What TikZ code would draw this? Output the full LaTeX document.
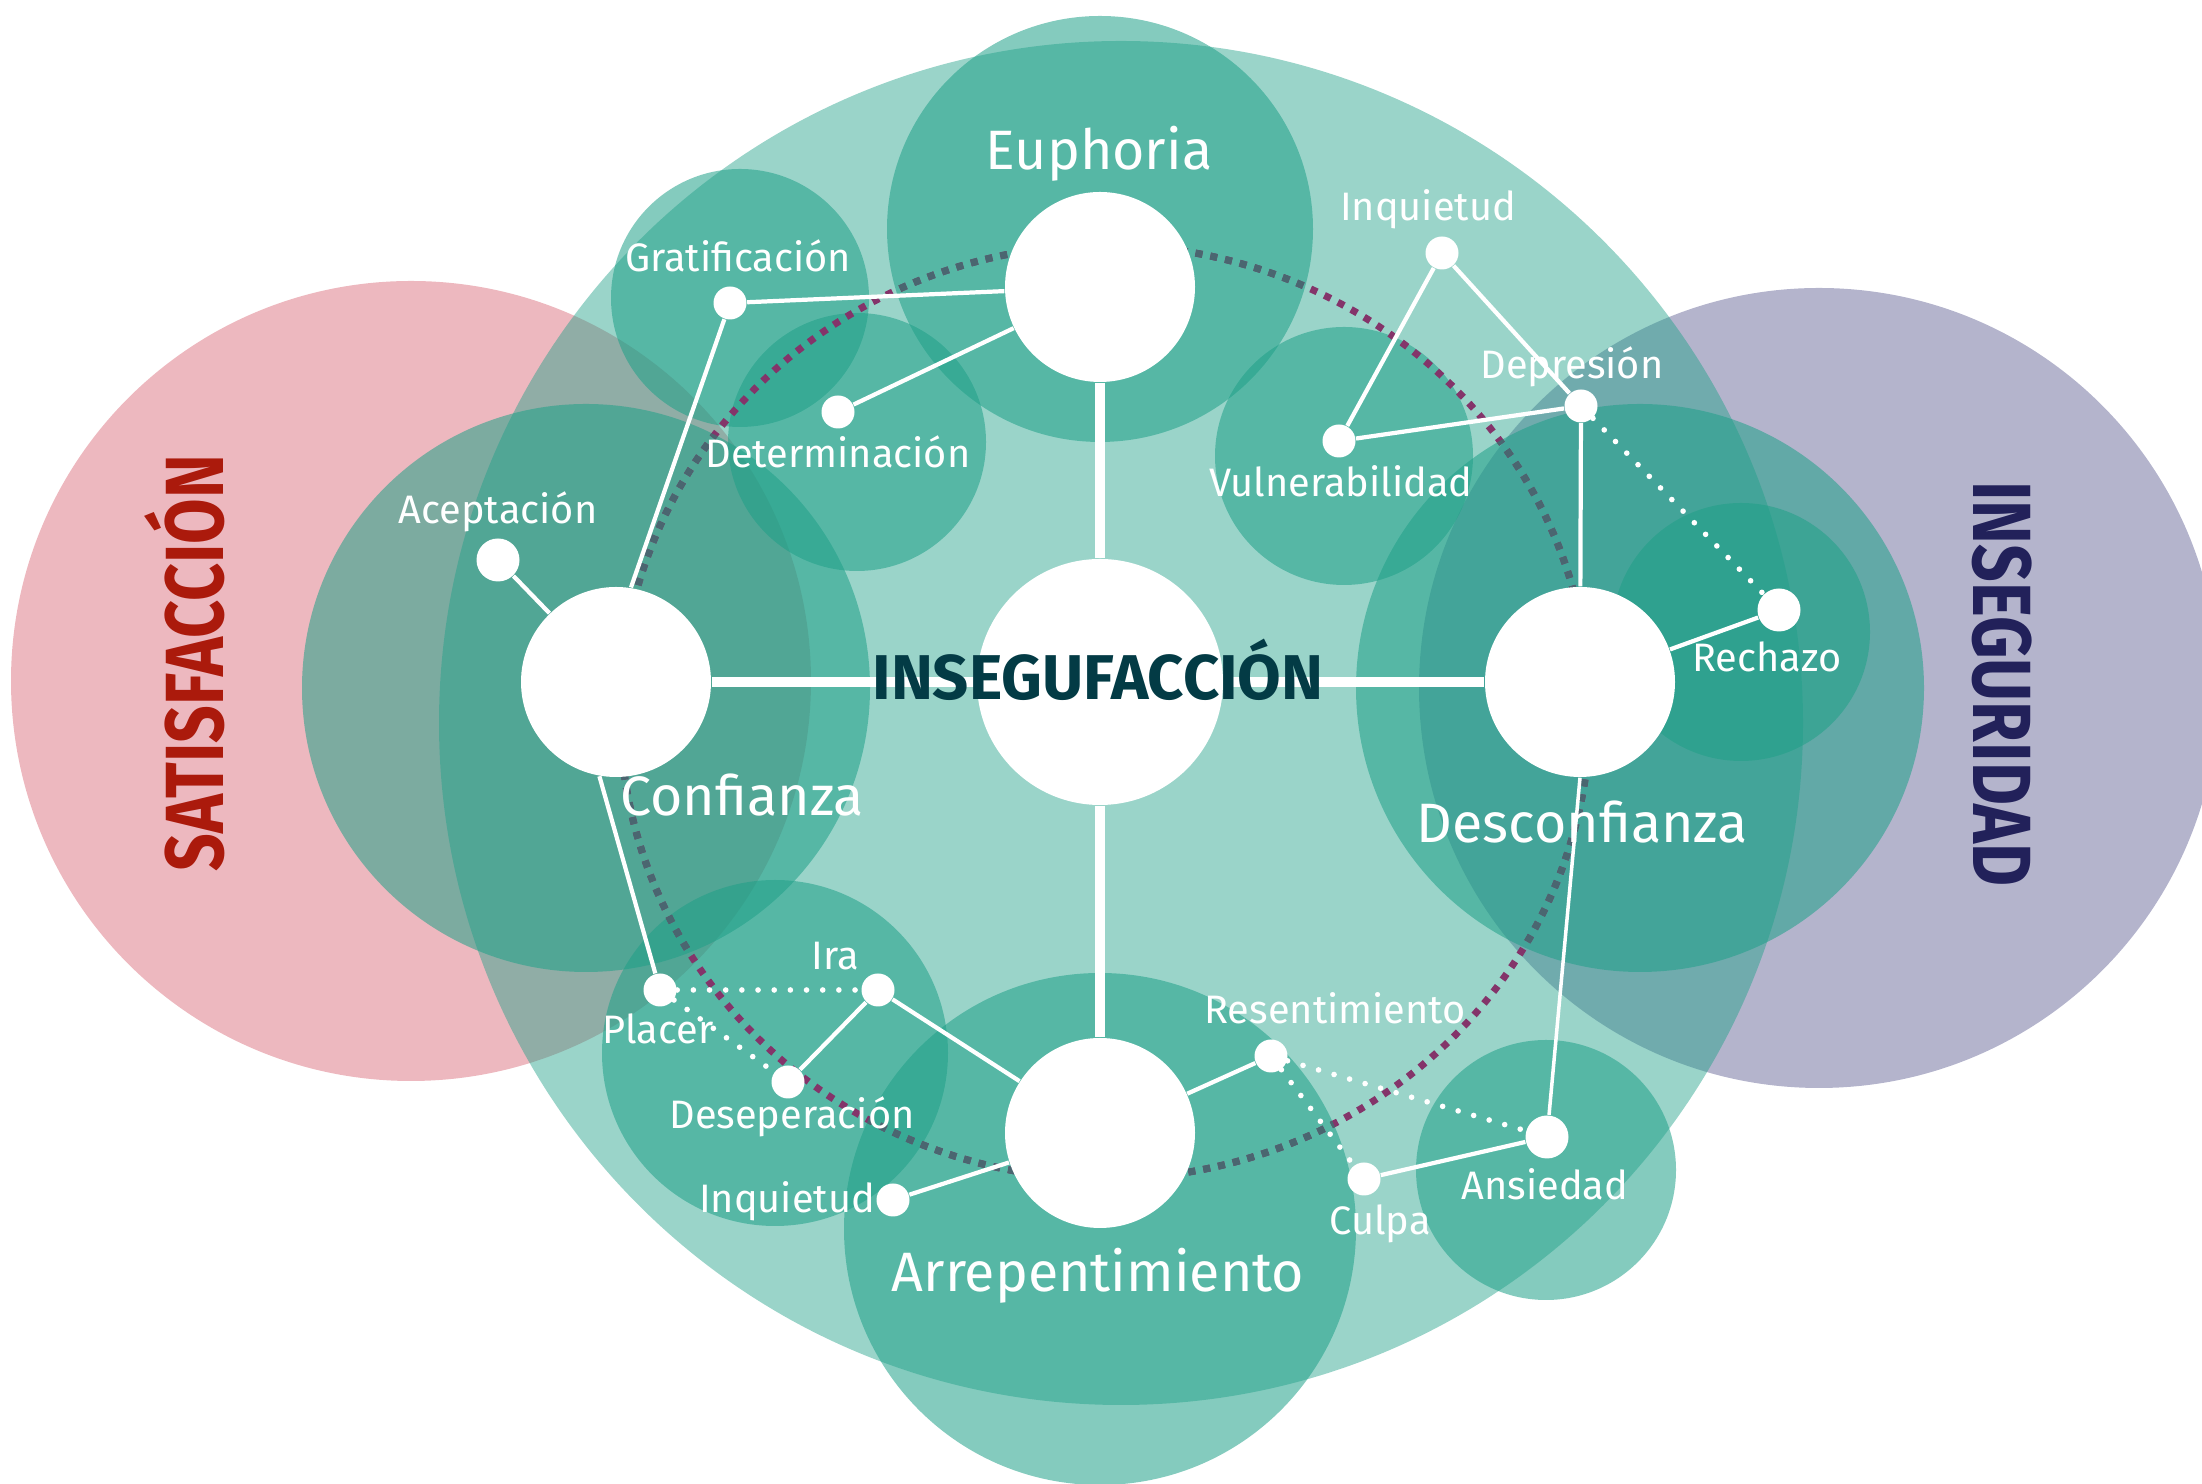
\documentclass[tikz,border=0pt]{standalone}
\usepackage{fontspec}
\setmainfont{Fira Sans}
\newfontfamily\sidefont[FakeStretch=0.8]{Fira Sans}

\definecolor{tealbase}{RGB}{31,160,136}
\definecolor{pinkbase}{RGB}{200,40,60}
\definecolor{violetbase}{RGB}{40,40,110}
\definecolor{ringslate}{HTML}{4A6670}
\definecolor{ringplum}{HTML}{84346A}
\definecolor{coretext}{HTML}{033B45}
\definecolor{satred}{HTML}{AB1A0C}
\definecolor{insnavy}{HTML}{22215A}

\begin{document}
\begin{tikzpicture}[
	hub/.style={circle,fill=white,inner sep=0pt,minimum size=1.9cm},
	leaf/.style={circle,fill=white,inner sep=0pt,minimum size=0.33cm},
	bigleaf/.style={leaf,minimum size=0.43cm},
	tag/.style={white,anchor=base,font=\fontsize{11.3}{13}\selectfont},
	bigtag/.style={white,anchor=base,font=\fontsize{15.8}{18}\selectfont},
	blob/.style={fill=tealbase,fill opacity=0.55},
	link/.style={white,line width=1.2pt},
	spoke/.style={white,line width=2.8pt},
	hint/.style={white,line width=1.6pt,line cap=round,dash pattern=on 0pt off 4.6pt},
	ring/.style={line width=2pt,dash pattern=on 2pt off 2.3pt}
]
	\useasboundingbox (0,0) rectangle (22.02,14.84);
	\fill[pinkbase,fill opacity=0.33] (4.11,8.03) circle (4.00);
	\fill[violetbase,fill opacity=0.35] (18.19,7.96) circle (4.00);
	\fill[tealbase,fill opacity=0.45] (11.21,7.61) circle (6.82);
	\fill[blob] (11.00,12.55) circle (2.13);
	\fill[blob] (5.86,7.96) circle (2.84);
	\fill[blob] (16.40,7.96) circle (2.84);
	\fill[blob] (11.00,2.55) circle (2.56);
	\fill[blob] (7.40,11.86) circle (1.29);
	\fill[blob] (8.57,10.42) circle (1.29);
	\fill[blob] (13.44,10.28) circle (1.29);
	\fill[blob] (17.41,8.52) circle (1.29);
	\fill[blob] (7.75,4.31) circle (1.73);
	\fill[blob] (15.46,3.14) circle (1.30);

	\draw[ring,ringplum] (11.05,7.72) ellipse [x radius=4.85,y radius=4.67];
	\begin{scope}
		\clip (11.00,12.55) circle (2.13) (5.86,7.96) circle (2.84)
			(16.40,7.96) circle (2.84) (11.00,2.55) circle (2.56);
		\draw[ring,ringslate] (11.05,7.72) ellipse [x radius=4.85,y radius=4.67];
	\end{scope}

	\node[hub,minimum size=2.46cm] (core) at (11.00,8.02) {};
	\node[hub] (euphoria) at (11.00,11.97) {};
	\node[hub] (confianza) at (6.16,8.02) {};
	\node[hub] (desconfianza) at (15.80,8.02) {};
	\node[hub] (arrep) at (11.00,3.51) {};

	\node[leaf] (grat) at (7.30,11.81) {};
	\node[leaf] (determ) at (8.38,10.72) {};
	\node[bigleaf] (acept) at (4.98,9.24) {};
	\node[leaf] (inqtop) at (14.42,12.31) {};
	\node[leaf] (depre) at (15.81,10.78) {};
	\node[leaf] (vulner) at (13.39,10.43) {};
	\node[bigleaf] (rechazo) at (17.79,8.74) {};
	\node[leaf] (placer) at (6.60,4.94) {};
	\node[leaf] (ira) at (8.78,4.94) {};
	\node[leaf] (desesp) at (7.88,4.02) {};
	\node[leaf] (inqlow) at (8.93,2.84) {};
	\node[leaf] (resent) at (12.71,4.28) {};
	\node[leaf] (culpa) at (13.64,3.05) {};
	\node[bigleaf] (ansiedad) at (15.47,3.47) {};

	\draw[spoke] (core) -- (euphoria);
	\draw[spoke] (core) -- (confianza);
	\draw[spoke] (core) -- (desconfianza);
	\draw[spoke] (core) -- (arrep);

	\draw[link] (grat) -- (euphoria);
	\draw[link] (determ) -- (euphoria);
	\draw[link] (grat) -- (confianza.81);
	\draw[link] (acept) -- (confianza);
	\draw[link] (confianza.260) -- (placer);
	\draw[hint] (placer) -- (ira);
	\draw[hint] (placer) -- (desesp);
	\draw[link] (ira) -- (desesp);
	\draw[link] (ira) -- (arrep);
	\draw[link] (inqlow) -- (arrep);
	\draw[link] (arrep) -- (resent);
	\draw[hint] (resent) -- (culpa);
	\draw[hint] (resent) -- (ansiedad);
	\draw[link] (culpa) -- (ansiedad);
	\draw[link,line width=1pt] (desconfianza.south) -- (ansiedad);
	\draw[link] (desconfianza) -- (rechazo);
	\draw[link] (desconfianza) -- (depre);
	\draw[hint] (depre) -- (rechazo);
	\draw[link] (depre) -- (vulner);
	\draw[link] (vulner) -- (inqtop);
	\draw[link] (inqtop) -- (depre);

	\node[bigtag] (euphoriatxt) at (10.99,13.14) {Euphoria};
	\node[bigtag] (confianzatxt) at (7.42,6.68) {Confianza};
	\node[bigtag] (desconfianzatxt) at (15.82,6.41) {Desconfianza};
	\node[bigtag] (arreptxt) at (10.98,1.92) {Arrepentimiento};
	\node[tag] (grattxt) at (7.38,12.12) {Gratificación};
	\node[tag] (determtxt) at (8.38,10.16) {Determinación};
	\node[tag] (acepttxt) at (4.98,9.60) {Aceptación};
	\node[tag] (inqtoptxt) at (14.28,12.63) {Inquietud};
	\node[tag] (depretxt) at (15.72,11.05) {Depresión};
	\node[tag] (vulnertxt) at (13.41,9.87) {Vulnerabilidad};
	\node[tag] (rechazotxt) at (17.67,8.12) {Rechazo};
	\node[tag] (iratxt) at (8.35,5.14) {Ira};
	\node[tag] (placertxt) at (6.58,4.40) {Placer};
	\node[tag] (desesptxt) at (7.92,3.55) {Deseperación};
	\node[tag] (inqlowtxt) at (7.87,2.71) {Inquietud};
	\node[tag] (resenttxt) at (13.35,4.60) {Resentimiento};
	\node[tag] (culpatxt) at (13.80,2.49) {Culpa};
	\node[tag] (ansiedadtxt) at (15.45,2.84) {Ansiedad};

	\node[coretext,anchor=base,font=\fontsize{18}{21}\selectfont\bfseries] (coretxt) at (10.98,7.84) {INSEGUFACCIÓN};
	\node[satred,anchor=base,rotate=90,font=\fontsize{23.5}{26}\selectfont\sidefont\bfseries] (sattxt) at (2.23,8.21) {SATISFACCIÓN};
	\node[insnavy,anchor=base,rotate=-90,font=\fontsize{23.5}{26}\selectfont\sidefont\bfseries] (instxt) at (19.73,8.00) {INSEGURIDAD};
\end{tikzpicture}
\end{document}
